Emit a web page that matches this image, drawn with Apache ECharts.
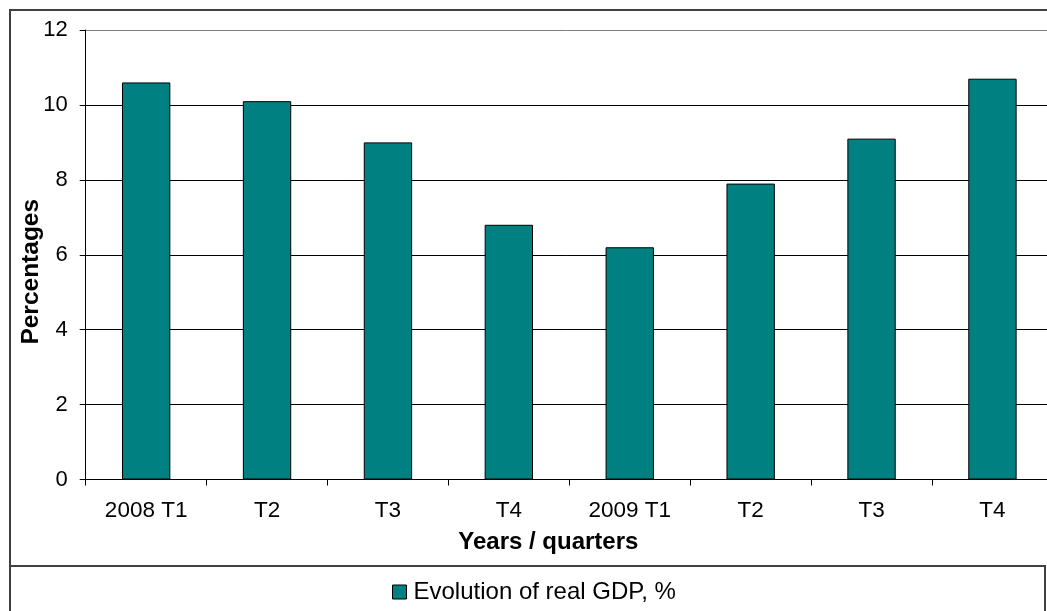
<!DOCTYPE html>
<html>
<head>
<meta charset="utf-8">
<script src="https://cdn.jsdelivr.net/npm/echarts@6/dist/echarts.min.js"></script>
<style>
  html, body { margin: 0; padding: 0; background: #fff; }
  #chart { width: 1047px; height: 611px; }
</style>
</head>
<body>
<div id="chart"></div>
<script>
// Quarterly real GDP growth, 2008–2009
const categories = ['2008 T1', 'T2', 'T3', 'T4', '2009 T1', 'T2', 'T3', 'T4'];
const gdpGrowth = [10.6, 10.1, 9.0, 6.8, 6.2, 7.9, 9.1, 10.7];
const seriesName = 'Evolution of real GDP, %';
const yTitle = 'Percentages';
const xTitle = 'Years / quarters';

const FONT = '"Liberation Sans", Arial, sans-serif';

const chart = echarts.init(document.getElementById('chart'), null, { renderer: 'canvas' });

chart.setOption({
  backgroundColor: '#ffffff',
  animation: false,
  textStyle: { fontFamily: FONT, color: '#000' },
  graphic: [
    // outer chart frame
    { type: 'rect', z: 0, shape: { x: 10, y: 10, width: 1080, height: 640 },
      style: { fill: 'none', stroke: '#404040', lineWidth: 2 } },
    // legend frame
    { type: 'rect', z: 0, shape: { x: 10, y: 566, width: 1035, height: 80 },
      style: { fill: 'none', stroke: '#404040', lineWidth: 2 } }
  ],
  // plot area runs slightly past the right edge of the canvas
  grid: { left: 85.7, width: 967.2, top: 30, height: 449.5, containLabel: false, outerBoundsMode: 'none' },
  legend: {
    left: 387, top: 575,
    itemWidth: 14, itemHeight: 14, itemGap: 10,
    icon: 'rect',
    textStyle: { fontFamily: FONT, fontSize: 24, color: '#000', padding: [0, 0, 0, 2] },
    data: [{ name: seriesName, itemStyle: { color: '#008080', borderColor: '#000', borderWidth: 1 } }]
  },
  xAxis: {
    type: 'category',
    data: categories,
    name: xTitle,
    nameLocation: 'middle',
    nameGap: 51,
    nameMoveOverlap: false,
    nameTextStyle: { fontFamily: FONT, fontSize: 24, fontWeight: 'bold', color: '#000', padding: [0, 42, 0, 0] },
    axisLine: { show: true, lineStyle: { color: '#000', width: 1 } },
    axisTick: { show: true, inside: false, length: 6, lineStyle: { color: '#000' } },
    axisLabel: { fontFamily: FONT, fontSize: 22.5, color: '#000', margin: 20 },
    splitLine: { show: false }
  },
  yAxis: {
    type: 'value',
    min: 0, max: 12, interval: 2,
    name: yTitle,
    nameLocation: 'middle',
    nameGap: 42,
    nameMoveOverlap: false,
    nameRotate: 90,
    nameTextStyle: { fontFamily: FONT, fontSize: 24.5, fontWeight: 'bold', color: '#000', padding: [0, 34, 0, 0] },
    axisLine: { show: true, lineStyle: { color: '#000', width: 1 } },
    axisTick: { show: true, inside: false, length: 6, lineStyle: { color: '#000' } },
    axisLabel: { fontFamily: FONT, fontSize: 22, color: '#000', margin: 18 },
    splitLine: { show: true, lineStyle: { color: ['#000', '#000', '#000', '#000', '#000', '#000', '#808080'], width: 1 } }
  },
  series: [{
    name: seriesName,
    type: 'bar',
    data: gdpGrowth,
    barWidth: '40%',
    itemStyle: { color: '#008080', borderColor: '#000', borderWidth: 1 }
  }]
});
</script>
</body>
</html>
